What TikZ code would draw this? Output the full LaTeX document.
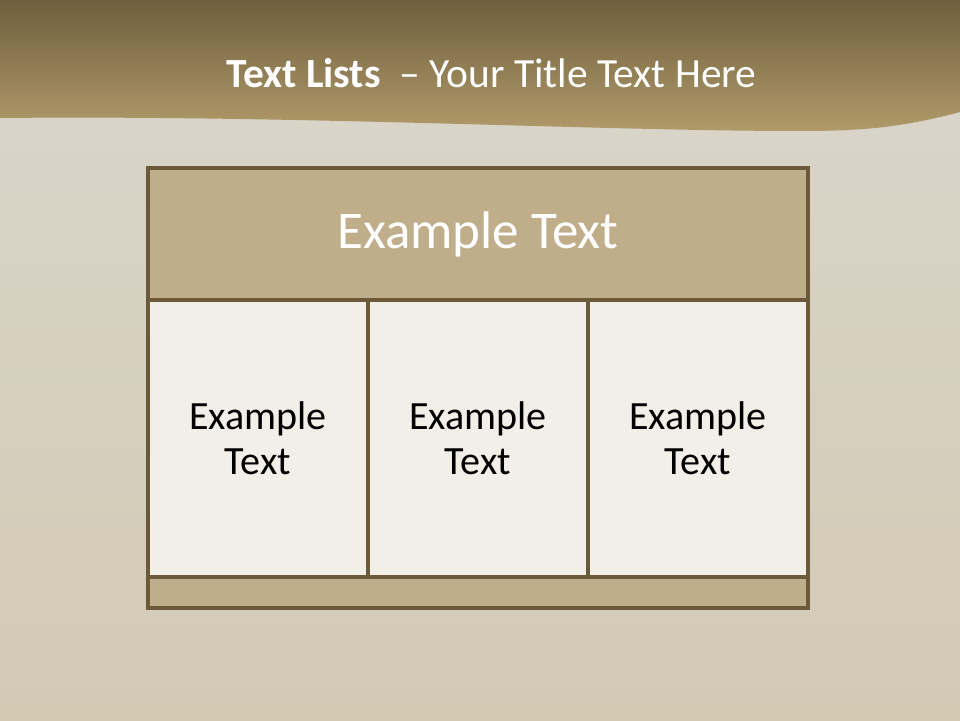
\documentclass[tikz,border=0pt]{standalone}
\usepackage{fontspec}
\setmainfont{Carlito}
\usetikzlibrary{positioning}
\definecolor{parch}{HTML}{D3CAB4}
\definecolor{parchtop}{HTML}{DAD6CC}
\definecolor{bandtop}{HTML}{6F5F3D}
\definecolor{bandbot}{HTML}{B09A6A}
\definecolor{tan}{HTML}{C0AE8A}
\definecolor{rim}{HTML}{6B5A3A}
\definecolor{paper}{HTML}{F2EFE9}

\begin{document}
\begin{tikzpicture}[node distance=0pt,every node/.style={inner sep=0pt,outer sep=0pt},headbox/.style={draw=rim,line width=2.8pt,fill=tan,minimum width=16.5cm,minimum height=3.3cm,text=white,font=\fontsize{37.7}{40}\selectfont},cellbox/.style={draw=rim,line width=2.8pt,fill=paper,minimum width=5.5cm,minimum height=6.925cm,align=center,font=\fontsize{28.5}{32}\selectfont},footbox/.style={draw=rim,line width=2.8pt,fill=tan,minimum width=16.5cm,minimum height=0.775cm}]
% background and title band
\shade[top color=parchtop,bottom color=parch] (0,0) rectangle (24,18);
\useasboundingbox (0,0) rectangle (24,18);
\shade[top color=bandtop,bottom color=bandbot] (0,18) -- (24,18) -- (24,15.2) .. controls (22.5,14.8) and (21.5,14.725) .. (20,14.725) .. controls (15,14.725) and (7.5,15.125) .. (0,15.05) -- cycle;
\node[anchor=base,text=white,font=\fontsize{29.5}{36}\selectfont] (title) at (12.28,15.8) {\textbf{Text Lists}\ \ – Your Title Text Here};
% table
\node[headbox,anchor=north west] (head) at (3.7,13.8) {\raisebox{-0.1cm}{Example Text}};
\node[cellbox,anchor=north west] (c1) at (head.south west) {Example\\Text};
\node[cellbox,right=of c1] (c2) {Example\\Text};
\node[cellbox,right=of c2] (c3) {Example\\Text};
\node[footbox,anchor=north west] (foot) at (c1.south west) {};
\end{tikzpicture}
\end{document}
